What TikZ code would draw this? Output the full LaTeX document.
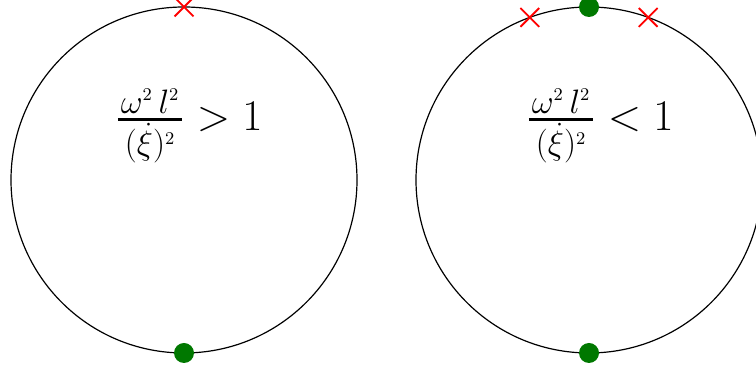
\RequirePackage{fix-cm}
\documentclass[tikz,border=0pt]{standalone}
\usepackage{amsmath}
\usetikzlibrary{shapes.misc,calc}
\DeclareMathSizes{22}{22}{17}{9}
\definecolor{dotgreen}{RGB}{0,120,0}
\tikzset{
  ring/.style={draw=black, line width=0.6pt},
  zero/.style={circle, fill=dotgreen, inner sep=0pt, minimum size=10bp},
  pole/.style={cross out, draw=red, line width=0.9pt, inner sep=0pt, minimum size=8.5bp},
  ratio/.style={font=\fontsize{22}{26}\selectfont}
}
\newcommand{\freqratio}{\genfrac{}{}{1.3pt}{1}{\hspace{1.5bp}\omega^2\,l^2\hspace{1.5bp}}{(\dot{\xi})^2}}
\begin{document}
\begin{tikzpicture}[x=0.5bp, y=0.5bp]
    \useasboundingbox (0,0) rectangle (756,374);
    \clip (0,0) rectangle (756,374);
    \coordinate (cl) at (184,194);
    \coordinate (cr) at (589,194);
    \draw[ring] (cl) circle[radius=86.5bp];
    \draw[ring] (cr) circle[radius=86.5bp];
    \node[ratio] (rl) at (189,248) {$\freqratio > 1$};
    \node[ratio] (rr) at (600,248) {$\freqratio < 1$};
    \node[pole] (pl) at ($(cl)+(90:86.5bp)$) {};
    \node[zero] (zl) at ($(cl)+(270:86.5bp)$) {};
    \node[pole] (pa) at ($(cr)+(110:86.5bp)$) {};
    \node[pole] (pb) at ($(cr)+(70:86.5bp)$) {};
    \node[zero] (za) at ($(cr)+(90:86.5bp)$) {};
    \node[zero] (zb) at ($(cr)+(270:86.5bp)$) {};
\end{tikzpicture}
\end{document}
